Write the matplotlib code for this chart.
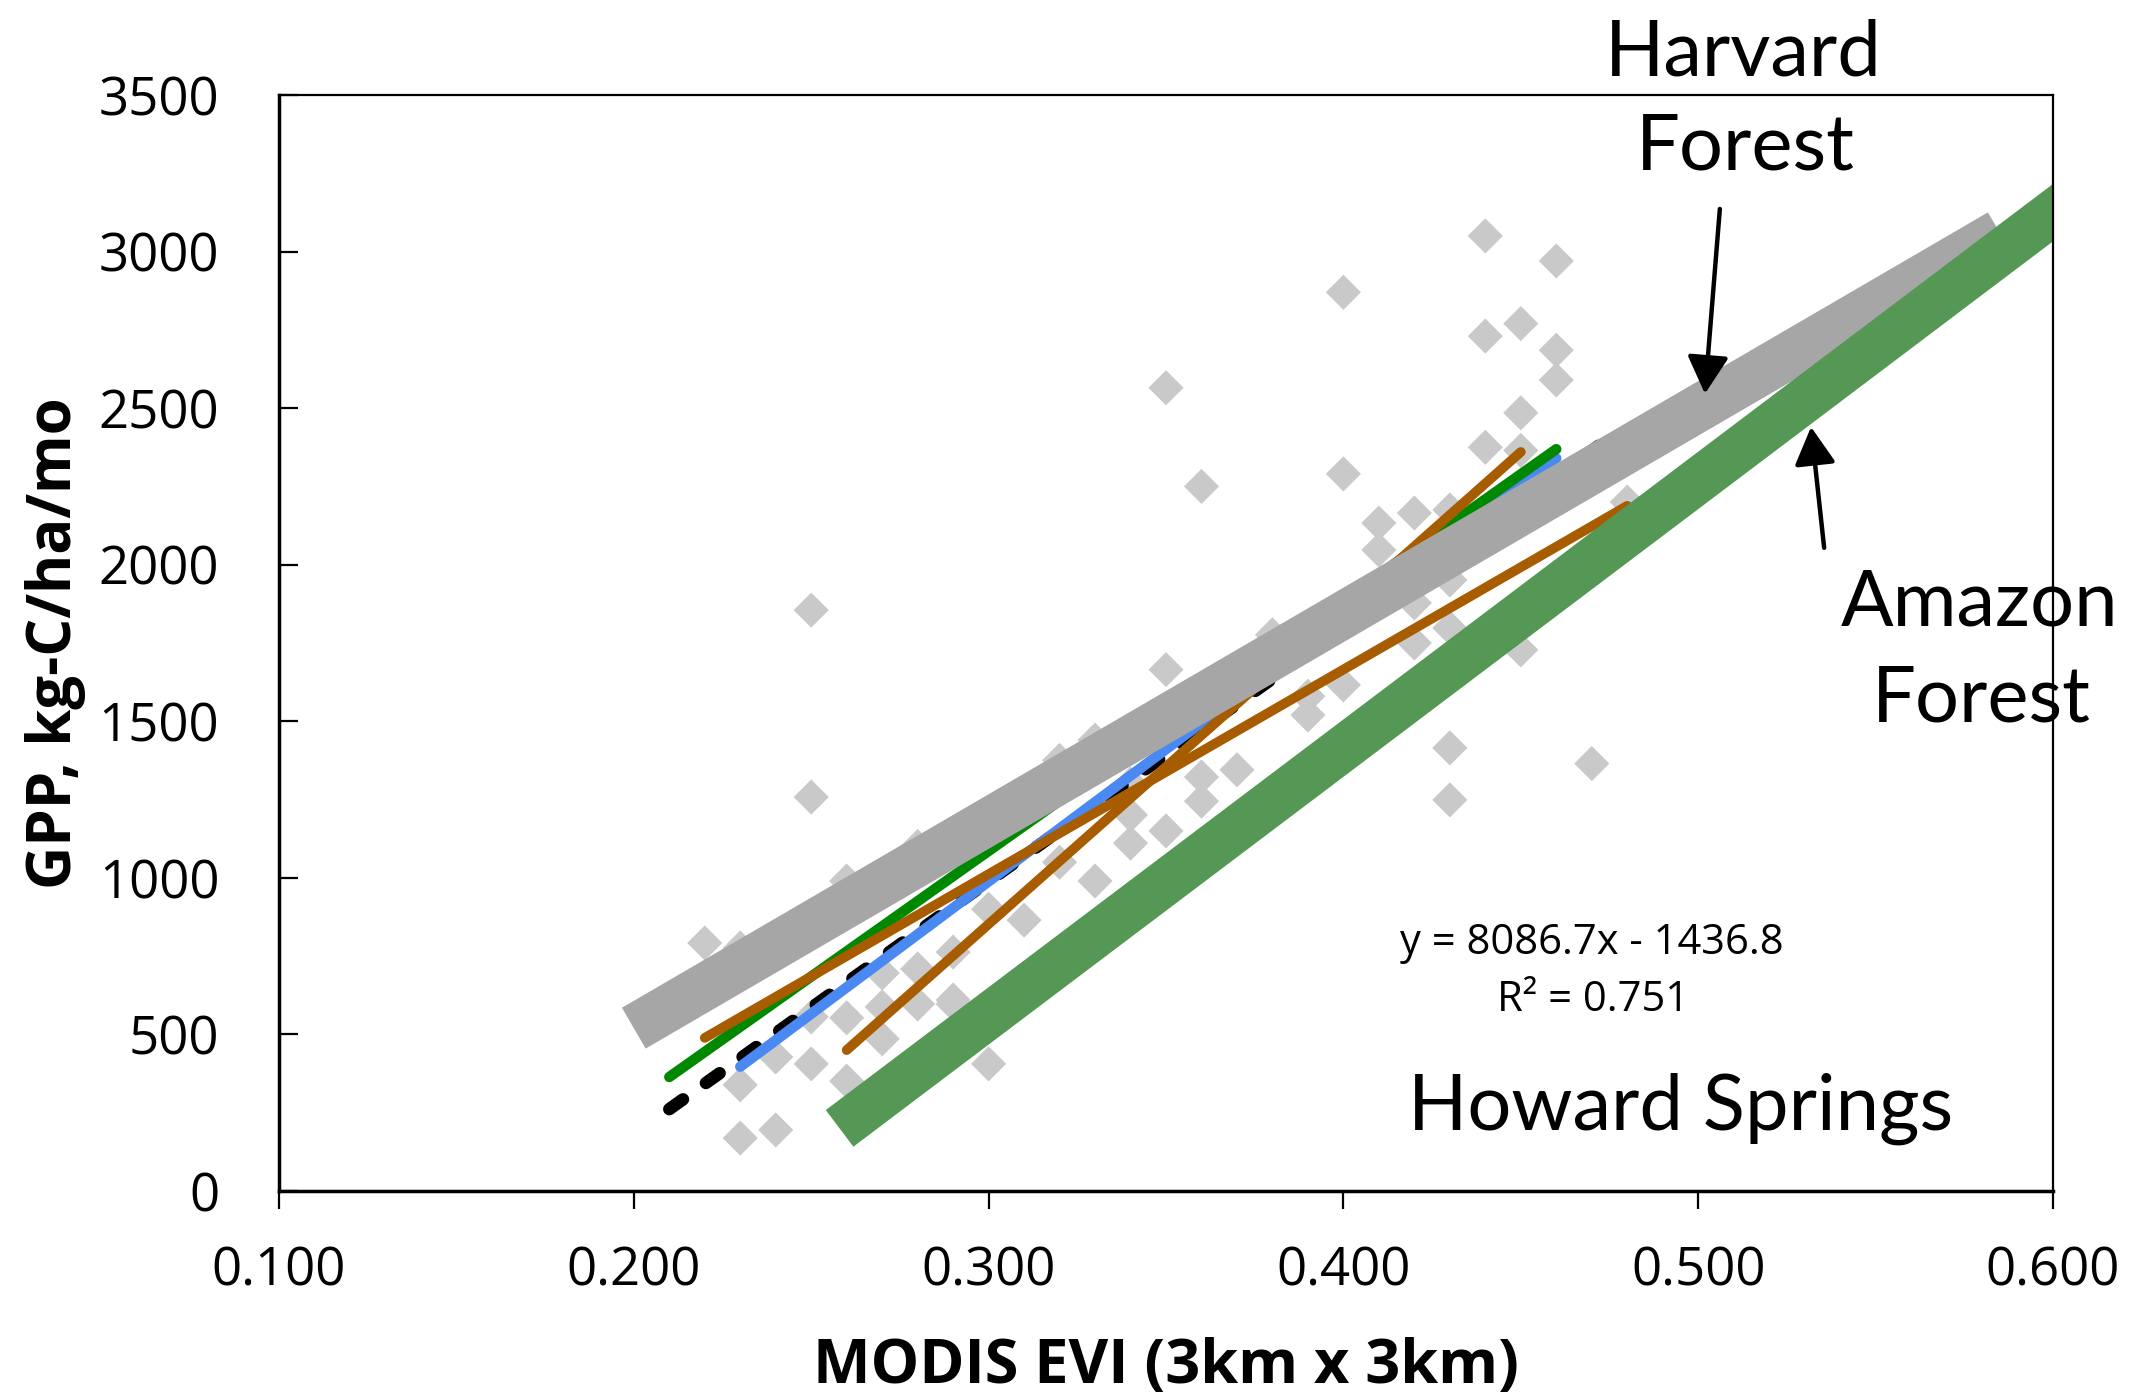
import numpy as np
import matplotlib
matplotlib.use("Agg")
import matplotlib.pyplot as plt

plt.rcParams['font.family'] = ['Open Sans', 'DejaVu Sans']

# monthly tower GPP vs MODIS EVI (gray diamonds)
evi_pts = [0.44, 0.46, 0.40, 0.44, 0.45, 0.46, 0.46, 0.35, 0.45, 0.44, 0.45,
           0.40, 0.36, 0.41, 0.42, 0.43, 0.41, 0.48, 0.25, 0.35, 0.25, 0.45,
           0.43, 0.42, 0.40, 0.39, 0.39, 0.43, 0.42, 0.43, 0.43, 0.47, 0.38,
           0.33, 0.32, 0.30, 0.36, 0.37, 0.36, 0.35, 0.34, 0.33, 0.31, 0.34,
           0.29, 0.29, 0.28, 0.28, 0.27, 0.27, 0.26, 0.26, 0.25, 0.24, 0.24,
           0.23, 0.23, 0.30, 0.22, 0.23, 0.26, 0.28, 0.30, 0.27, 0.29, 0.25,
           0.32, 0.34]
gpp_pts = [3050, 2970, 2870, 2730, 2770, 2685, 2590, 2565, 2485, 2375, 2365,
           2290, 2250, 2133, 2165, 2175, 2047, 2200, 1855, 1665, 1258, 1728,
           1798, 1750, 1616, 1520, 1580, 1951, 1878, 1415, 1249, 1365, 1776,
           1440, 1375, 1207, 1322, 1345, 1245, 1150, 1111, 990, 865, 1201,
           763, 597, 709, 597, 696, 486, 553, 351, 406, 428, 195,
           169, 339, 406, 792, 776, 990, 1100, 900, 588, 610, 556,
           1050, 1300]

# overall fit
fit_slope, fit_icpt = 8086.7, -1436.8
fit_r2 = 0.751
fit_range = [0.21, 0.475]

# site regression lines
blue_x, blue_y = [0.23, 0.46], [397, 2340]
green_x, green_y = [0.21, 0.46], [364, 2369]
orange1_x, orange1_y = [0.22, 0.48], [489, 2188]
orange2_x, orange2_y = [0.26, 0.45], [450, 2360]

# model bands
harvard_x, harvard_y = [0.20, 0.585], [520, 3060]
amazon_x, amazon_y = [0.258, 0.605], [200, 3167]

W, H = 2135, 1398
fig = plt.figure(figsize=(W / 100, H / 100), dpi=100)
ax = fig.add_axes([279 / W, 1 - 1191 / H, (2053 - 279) / W, (1191 - 95) / H])

ax.scatter(evi_pts, gpp_pts, marker='D', s=320, color='#c9c9c9',
           edgecolors='none', zorder=1)

fx = np.array(fit_range)
ax.plot(fx, fit_slope * fx + fit_icpt, color='black', lw=9,
        dashes=(1.35, 2.25), dash_capstyle='round', zorder=2)
ax.plot(blue_x, blue_y, color='#4a88f2', lw=7.5, solid_capstyle='round', zorder=2)
ax.plot(green_x, green_y, color='#008800', lw=7.5, solid_capstyle='round', zorder=2)
ax.plot(orange1_x, orange1_y, color='#a85c00', lw=7, solid_capstyle='round', zorder=2)
ax.plot(orange2_x, orange2_y, color='#a85c00', lw=7, solid_capstyle='round', zorder=2)

ax.plot(harvard_x, harvard_y, color='#a6a6a6', lw=34, solid_capstyle='butt', zorder=3)
ax.plot(amazon_x, amazon_y, color='#559755', lw=33, solid_capstyle='butt', zorder=4)

arrow = dict(arrowstyle='-|>,head_length=1.0,head_width=0.55', lw=3.2,
             color='black', mutation_scale=23, shrinkA=0, shrinkB=0)
ax.annotate('', xy=(0.5019, 2546), xytext=(0.5061, 3136), arrowprops=arrow, zorder=6)
ax.annotate('', xy=(0.5318, 2440), xytext=(0.5355, 2054), arrowprops=arrow, zorder=6)

ax.set_xlim(0.1, 0.6)
ax.set_ylim(0, 3500)
xt = np.arange(0.1, 0.61, 0.1)
ax.set_xticks(xt)
ax.set_xticklabels(['%.3f' % v for v in xt])
ax.set_yticks(range(0, 3501, 500))
ax.tick_params(axis='y', direction='in', length=14, width=1.6, pad=43, labelsize=38)
ax.tick_params(axis='x', direction='out', length=13, width=1.6, pad=26, labelsize=38)
for side in ['left', 'bottom']:
    ax.spines[side].set_linewidth(2.5)
    ax.spines[side].set_zorder(5)
for side in ['top', 'right']:
    ax.spines[side].set_linewidth(1.6)
    ax.spines[side].set_zorder(5)

ax.set_xlabel('MODIS EVI (3km x 3km)', fontsize=44, fontweight='bold')
ax.xaxis.label.set_va('baseline')
ax.xaxis.set_label_coords(0.5, (1191 - 1383) / 1096)
ax.set_ylabel('GPP, kg-C/ha/mo', fontsize=43, fontweight='bold')
ax.yaxis.label.set_va('baseline')
ax.yaxis.set_label_coords((71 - 279) / 1774, 0.5)


def ftext(px, py, s, **kw):
    fig.text(px / W, 1 - py / H, s, **kw)


big = dict(fontsize=56, family=['Lato', 'DejaVu Sans'], ha='center', va='baseline')
ftext(1743, 75, 'Harvard', **big)
ftext(1745, 170, 'Forest', **big)
ftext(1980, 625, 'Amazon', **big)
ftext(1981, 722, 'Forest', **big)
ftext(1681, 1130, 'Howard Springs', **big)

eq = dict(fontsize=30, ha='center', va='baseline')
ftext(1592, 954, 'y = %.1fx - %.1f' % (fit_slope, -fit_icpt), **eq)
ftext(1593, 1011, 'R² = %.3f' % fit_r2, **eq)

fig.savefig('out.png', dpi=100)
